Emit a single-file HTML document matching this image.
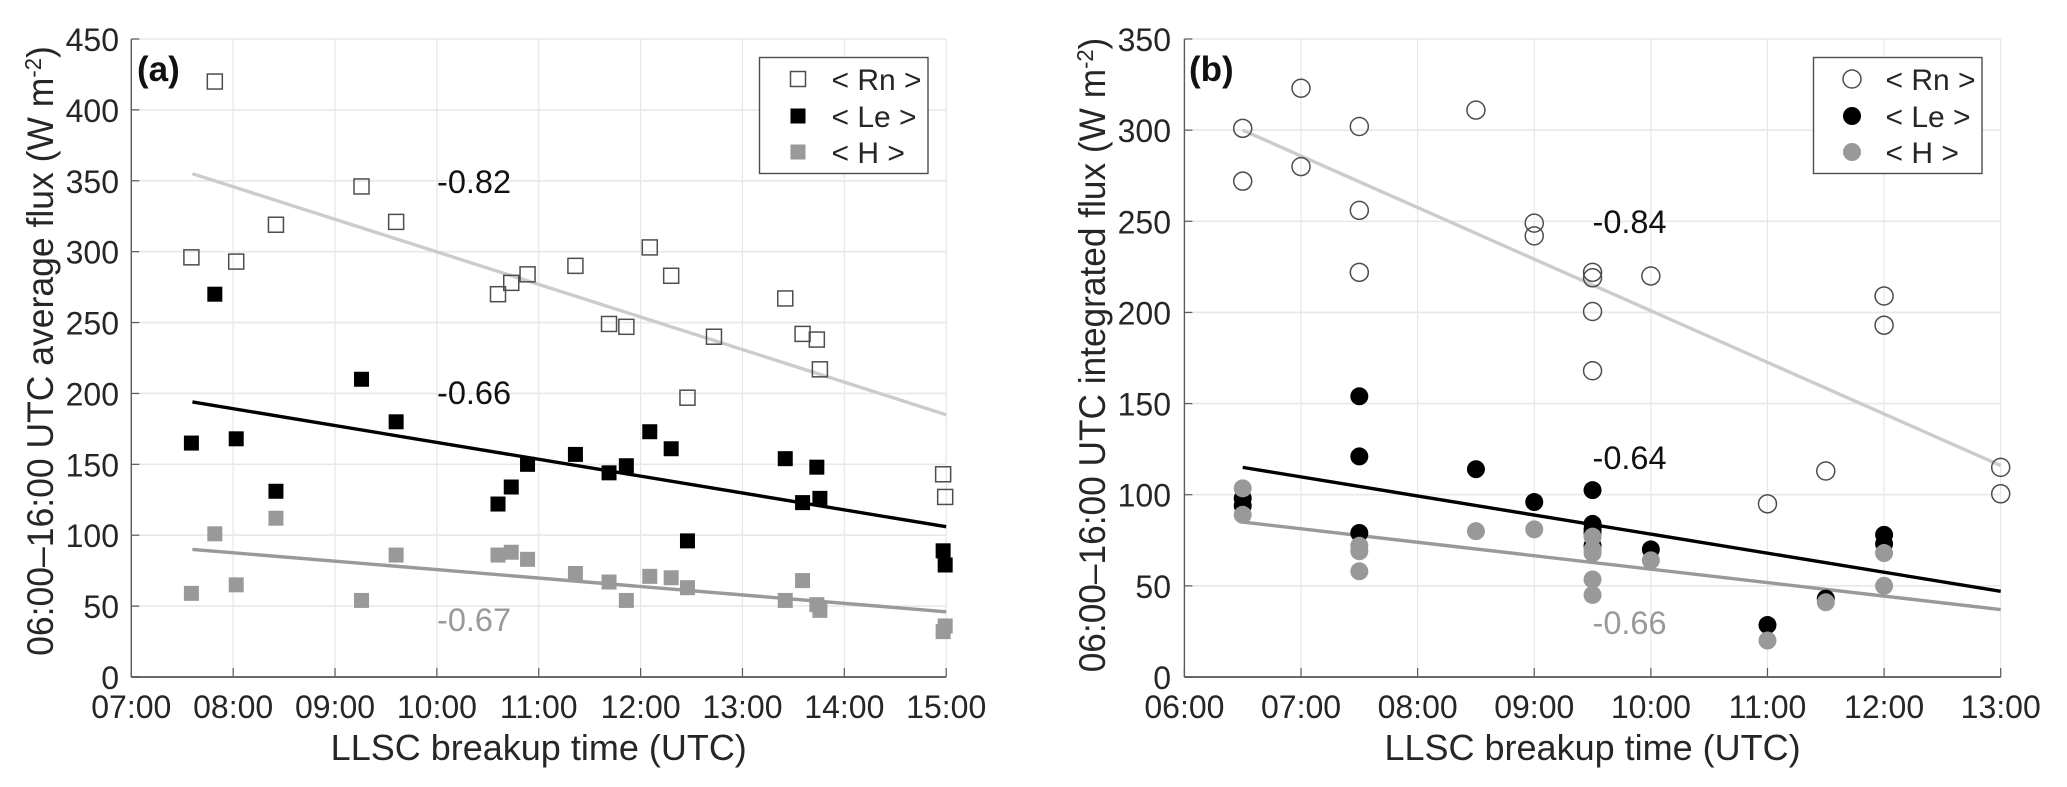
<!DOCTYPE html>
<html lang="en">
<head>
<meta charset="utf-8">
<title>LLSC breakup time vs. surface fluxes</title>
<style>
  html, body { margin: 0; padding: 0; background: #fff; width: 2067px; height: 787px; overflow: hidden; }
  svg { display: block; }
  text { font-family: "Liberation Sans", Arial, sans-serif; fill: #262626; }
</style>
</head>
<body>
<svg id="figure" width="2067" height="787" viewBox="0 0 2067 787" xmlns="http://www.w3.org/2000/svg"></svg>
<script>
// Panel (a) data
const aXTicks = ['07:00','08:00','09:00','10:00','11:00','12:00','13:00','14:00','15:00'];
const aYTicks = [0,50,100,150,200,250,300,350,400,450];
const aRnX = [7.59,7.82,8.03,8.42,9.26,9.6,10.6,10.73,10.89,11.36,11.69,11.86,12.09,12.3,12.46,12.72,13.42,13.59,13.73,13.76,14.97,14.99];
const aRnY = [296,420,293,319,346,321,270,278,284,290,249,247,303,283,197,240,267,242,238,217,143,127];
const aLeX = [7.59,7.82,8.03,8.42,9.26,9.6,10.6,10.73,10.89,11.36,11.69,11.86,12.09,12.3,12.46,13.42,13.59,13.73,13.76,14.97,14.99];
const aLeY = [165,270,168,131,210,180,122,134,150,157,144,149,173,161,96,154,123,148,126,89,79];
const aHX = [7.59,7.82,8.03,8.42,9.26,9.6,10.6,10.73,10.89,11.36,11.69,11.86,12.09,12.3,12.46,13.42,13.59,13.73,13.76,14.97,14.99];
const aHY = [59,101,65,112,54,86,86,88,83,73,67,54,71,70,63,54,68,51,47,32,36];
const aFitX = [7.6,15];
const aFitRn = [355,185];
const aFitLe = [194,106];
const aFitH = [90,46];

// Panel (b) data
const bXTicks = ['06:00','07:00','08:00','09:00','10:00','11:00','12:00','13:00'];
const bYTicks = [0,50,100,150,200,250,300,350];
const bRnX = [6.5,6.5,7,7,7.5,7.5,7.5,8.5,9,9,9.5,9.5,9.5,9.5,10,11,11.5,12,12,13,13];
const bRnY = [301,272,323,280,302,256,222,311,249,242,222,219,200.5,168,220,95,113,209,193,115,100.5];
const bLeX = [6.5,6.5,7.5,7.5,7.5,8.5,9,9.5,9.5,9.5,9.5,9.5,10,11,11.5,12,12];
const bLeY = [98,94,154,121,79,114,96,102.5,84,81,79,72,70,28.5,43,78,73];
const bHX = [6.5,6.5,7.5,7.5,7.5,8.5,9,9.5,9.5,9.5,9.5,9.5,10,11,11.5,12,12];
const bHY = [103.5,89,72,69,58,80,81,77,70,68,53.5,45,64,20,41,68,50];
const bFitX = [6.5,13];
const bFitRn = [300,116];
const bFitLe = [115,47];
const bFitH = [85,37];

const svg = document.getElementById('figure');
const NS = 'http://www.w3.org/2000/svg';
const AXIS_TOP = 39, AXIS_BOTTOM = 677;

function make(parent, tag, name, attrs, content) {
  const el = document.createElementNS(NS, tag);
  
  
  for (const k in attrs) el.setAttribute(k, attrs[k]);
  if (content !== undefined) el.textContent = content;
  parent.appendChild(el);
  return el;
}
function hours(label) {
  const p = label.split(':');
  return Number(p[0]) + Number(p[1]) / 60;
}
function marker(parent, shape, name, cx, cy, style) {
  if (shape === 'square') {
    return make(parent, 'rect', name, Object.assign({ x: cx - 7.5, y: cy - 7.5, width: 15, height: 15 }, style));
  }
  return make(parent, 'circle', name, Object.assign({ cx: cx, cy: cy, r: 9 }, style));
}

function drawPanel(cfg) {
  const g = make(svg, 'g', 'panel-' + cfg.id, {});
  const xMin = hours(cfg.xTicks[0]);
  const xMax = hours(cfg.xTicks[cfg.xTicks.length - 1]);
  const yMax = cfg.yTicks[cfg.yTicks.length - 1];
  const sx = v => cfg.left + (v - xMin) / (xMax - xMin) * (cfg.right - cfg.left);
  const sy = v => AXIS_BOTTOM - v / yMax * (AXIS_BOTTOM - AXIS_TOP);

  // grid
  cfg.xTicks.forEach(t => {
    const x = sx(hours(t));
    make(g, 'line', 'x-gridline', { x1: x, x2: x, y1: AXIS_TOP, y2: AXIS_BOTTOM, stroke: '#e6e6e6', 'stroke-width': 1.2 });
  });
  cfg.yTicks.forEach(t => {
    const y = sy(t);
    make(g, 'line', 'y-gridline', { x1: cfg.left, x2: cfg.right, y1: y, y2: y, stroke: '#e8e8e8', 'stroke-width': 1.6 });
  });

  // axes and ticks
  make(g, 'line', 'y-axis', { x1: cfg.left, x2: cfg.left, y1: AXIS_TOP, y2: AXIS_BOTTOM, stroke: '#5a5a5a', 'stroke-width': 1.4 });
  make(g, 'line', 'x-axis', { x1: cfg.left, x2: cfg.right, y1: AXIS_BOTTOM, y2: AXIS_BOTTOM, stroke: '#6a6a6a', 'stroke-width': 2 });
  cfg.xTicks.forEach(t => {
    const x = sx(hours(t));
    make(g, 'line', 'x-tick', { x1: x, x2: x, y1: AXIS_BOTTOM, y2: AXIS_BOTTOM - 9, stroke: '#5a5a5a', 'stroke-width': 1.2 });
    make(g, 'text', 'x-tick-label', { x: x, y: 718, 'text-anchor': 'middle', 'font-size': 32 }, t);
  });
  cfg.yTicks.forEach(t => {
    const y = sy(t);
    make(g, 'line', 'y-tick', { x1: cfg.left, x2: cfg.left + 8, y1: y, y2: y, stroke: '#5a5a5a', 'stroke-width': 1.2 });
    make(g, 'text', 'y-tick-label', { x: cfg.labelRight, y: y + 12, 'text-anchor': 'end', 'font-size': 32 }, String(t));
  });

  // fit lines
  const fits = [
    { name: 'fit-line-rn', v: cfg.fitRn, c: '#cccccc' },
    { name: 'fit-line-le', v: cfg.fitLe, c: '#000000' },
    { name: 'fit-line-h', v: cfg.fitH, c: '#999999' }
  ];
  fits.forEach(f => {
    make(g, 'line', f.name, { x1: sx(cfg.fitX[0]), y1: sy(f.v[0]), x2: sx(cfg.fitX[1]), y2: sy(f.v[1]), stroke: f.c, 'stroke-width': 3.4 });
  });

  // scatter series
  const rnStyle = { fill: 'none', stroke: '#4d4d4d', 'stroke-width': 1.5 };
  const leStyle = { fill: '#000000' };
  const hStyle = { fill: '#999999' };
  cfg.rnX.forEach((x, i) => marker(g, cfg.shape, 'rn-point', sx(x), sy(cfg.rnY[i]), rnStyle));
  cfg.leX.forEach((x, i) => marker(g, cfg.shape, 'le-point', sx(x), sy(cfg.leY[i]), leStyle));
  cfg.hX.forEach((x, i) => marker(g, cfg.shape, 'h-point', sx(x), sy(cfg.hY[i]), hStyle));

  // correlation annotations
  cfg.notes.forEach(n => {
    make(g, 'text', 'correlation-label', { x: n.x, y: n.y, 'font-size': 32.5, style: 'fill:' + n.c }, n.t);
  });

  // panel letter
  make(g, 'text', 'panel-letter', { x: cfg.letterX, y: 81, 'font-size': 35, 'font-weight': 'bold', style: 'fill:#111' }, cfg.letter);

  // legend
  const leg = make(g, 'g', 'legend', {});
  make(leg, 'rect', 'legend-box', { x: cfg.legX, y: 57.5, width: 168.5, height: 116, fill: '#fff', stroke: '#4d4d4d', 'stroke-width': 1.4 });
  const entries = [
    { t: '< Rn >', y: 79, s: rnStyle },
    { t: '< Le >', y: 116, s: leStyle },
    { t: '< H >', y: 152, s: hStyle }
  ];
  entries.forEach(e => {
    marker(leg, cfg.shape, 'legend-marker', cfg.legX + 38.5, e.y, e.s);
    make(leg, 'text', 'legend-label', { x: cfg.legX + 72, y: e.y + 11, 'font-size': 30 }, e.t);
  });

  // axis titles
  make(g, 'text', 'x-axis-title', { x: (cfg.left + cfg.right) / 2, y: 760, 'text-anchor': 'middle', 'font-size': 36 }, 'LLSC breakup time (UTC)');
  const yt = make(g, 'text', 'y-axis-title', { transform: 'translate(' + cfg.titleX + ',' + cfg.titleY + ') rotate(-90) scale(' + cfg.titleScale + ',1)', 'text-anchor': 'middle', 'font-size': 37 });
  yt.appendChild(document.createTextNode(cfg.title + ' (W m'));
  make(yt, 'tspan', 'y-axis-title-exponent', { dy: -12, 'font-size': 23 }, '-2');
  make(yt, 'tspan', 'y-axis-title-close', { dy: 12 }, ')');
}

drawPanel({
  id: 'a', letter: '(a)', letterX: 137, shape: 'square',
  left: 131.3, right: 946.2, labelRight: 119, legX: 759.5,
  xTicks: aXTicks, yTicks: aYTicks,
  rnX: aRnX, rnY: aRnY, leX: aLeX, leY: aLeY, hX: aHX, hY: aHY,
  fitX: aFitX, fitRn: aFitRn, fitLe: aFitLe, fitH: aFitH,
  notes: [
    { t: '-0.82', x: 437, y: 193, c: '#111' },
    { t: '-0.66', x: 437, y: 404, c: '#111' },
    { t: '-0.67', x: 437, y: 631, c: '#999' }
  ],
  title: '06:00\u201316:00 UTC average flux', titleX: 53, titleY: 351, titleScale: 0.96
});

drawPanel({
  id: 'b', letter: '(b)', letterX: 1189, shape: 'circle',
  left: 1184.4, right: 2000.7, labelRight: 1171, legX: 1813.5,
  xTicks: bXTicks, yTicks: bYTicks,
  rnX: bRnX, rnY: bRnY, leX: bLeX, leY: bLeY, hX: bHX, hY: bHY,
  fitX: bFitX, fitRn: bFitRn, fitLe: bFitLe, fitH: bFitH,
  notes: [
    { t: '-0.84', x: 1592.5, y: 233, c: '#111' },
    { t: '-0.64', x: 1592.5, y: 469, c: '#111' },
    { t: '-0.66', x: 1592.5, y: 634, c: '#999' }
  ],
  title: '06:00\u201316:00 UTC integrated flux', titleX: 1105, titleY: 355, titleScale: 0.953
});
</script>
</body>
</html>
